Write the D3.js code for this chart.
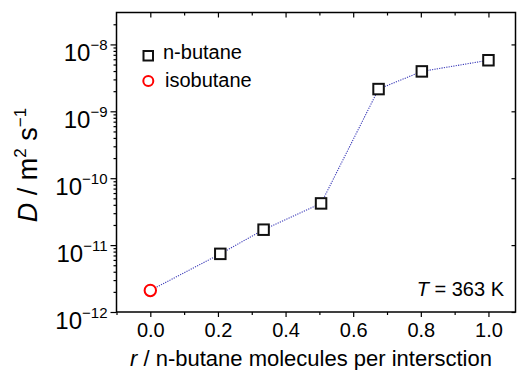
<!DOCTYPE html>
<html>
<head>
<meta charset="utf-8">
<script src="https://cdn.jsdelivr.net/npm/d3@7/dist/d3.min.js"></script>
<style>
  html, body { margin: 0; padding: 0; background: #fff; }
  svg { display: block; font-family: "Liberation Sans", Arial, sans-serif; }
</style>
</head>
<body>
<svg id="chart" width="518" height="370"></svg>
<script>
// Diffusivity of butane isomers vs. loading per intersection (T = 363 K)
const nButaneR = [0.207, 0.335, 0.505, 0.675, 0.803, 1.0];
const nButaneD = [7.4e-12, 1.7e-11, 4.2e-11, 2.15e-9, 3.95e-9, 5.8e-9];
const isobutaneR = [0.0];
const isobutaneD = [2.1e-12];

const xMajorTicks = [0.0, 0.2, 0.4, 0.6, 0.8, 1.0];
const xMinorTicks = [-0.1, 0.1, 0.3, 0.5, 0.7, 0.9];
const yDecadeExponents = [-12, -11, -10, -9, -8];

const svg = d3.select("#chart");
const plotL = 116.5, plotR = 515.5, plotT = 12.5, plotB = 312;

const x = d3.scaleLinear().domain([-0.1, 1.08]).range([plotL, plotR]);
const y = d3.scaleLog().domain([1e-12, 3e-8]).range([plotB, plotT]);

const decades = yDecadeExponents.map(e => Math.pow(10, e));
const yMinor = [];
yDecadeExponents.forEach(e => {
  for (let m = 2; m <= 9; m++) {
    const v = m * Math.pow(10, e);
    if (v <= y.domain()[1]) yMinor.push(v);
  }
});

function styleAxis(g) {
  g.select(".domain").remove();
  g.selectAll("line").attr("stroke", "#000").attr("stroke-width", 1.2);
}

// bottom axis: major + minor ticks outward
svg.append("g").attr("transform", `translate(0,${plotB})`)
  .call(d3.axisBottom(x).tickValues(xMajorTicks).tickSize(5).tickFormat(d3.format(".1f")))
  .call(styleAxis)
  .call(g => g.selectAll("text").attr("font-size", 20).attr("fill", "#000")
    .attr("font-family", "Liberation Sans, Arial, sans-serif")
    .attr("y", 25).attr("dy", null));
svg.append("g").attr("transform", `translate(0,${plotB})`)
  .call(d3.axisBottom(x).tickValues(xMinorTicks).tickSize(3).tickFormat(""))
  .call(styleAxis);

// top axis: inward ticks
svg.append("g").attr("transform", `translate(0,${plotT})`)
  .call(d3.axisTop(x).tickValues(xMajorTicks).tickSize(-5).tickFormat(""))
  .call(styleAxis);
svg.append("g").attr("transform", `translate(0,${plotT})`)
  .call(d3.axisTop(x).tickValues(xMinorTicks.filter(v => v > -0.1)).tickSize(-3).tickFormat(""))
  .call(styleAxis);

// left axis: decades with power labels, minor ticks outward
svg.append("g").attr("transform", `translate(${plotL},0)`)
  .call(d3.axisLeft(y).tickValues(decades).tickSize(6).tickFormat(""))
  .call(styleAxis);
svg.append("g").attr("transform", `translate(${plotL},0)`)
  .call(d3.axisLeft(y).tickValues(yMinor).tickSize(3).tickFormat(""))
  .call(styleAxis);

const yLabels = svg.append("g");
yDecadeExponents.forEach(e => {
  const t = yLabels.append("text")
    .attr("x", plotL - 9)
    .attr("y", y(Math.pow(10, e)) + 16.5)
    .attr("text-anchor", "end")
    .attr("font-size", 24)
    .attr("fill", "#000");
  t.append("tspan").text("10");
  t.append("tspan").attr("font-size", 15).attr("dy", -10.5).text("\u2212" + Math.abs(e));
});

// right axis: inward decade ticks
svg.append("g").attr("transform", `translate(${plotR},0)`)
  .call(d3.axisRight(y).tickValues(decades).tickSize(-4).tickFormat(""))
  .call(styleAxis);

// frame
svg.append("rect")
  .attr("x", plotL).attr("y", plotT)
  .attr("width", plotR - plotL).attr("height", plotB - plotT)
  .attr("fill", "none").attr("stroke", "#000").attr("stroke-width", 1.5);

// connecting dotted line through all points ordered by r
const allPts = isobutaneR.map((r, i) => [r, isobutaneD[i]])
  .concat(nButaneR.map((r, i) => [r, nButaneD[i]]))
  .sort((a, b) => a[0] - b[0]);
svg.append("path")
  .datum(allPts)
  .attr("fill", "none")
  .attr("stroke", "#3a3ab8")
  .attr("stroke-width", 1.1)
  .attr("stroke-dasharray", "1.2,1.2")
  .attr("d", d3.line().x(d => x(d[0])).y(d => y(d[1])));

// markers
const sq = 10.5;
svg.append("g").selectAll("rect")
  .data(nButaneR.map((r, i) => [r, nButaneD[i]]))
  .join("rect")
  .attr("x", d => x(d[0]) - sq / 2)
  .attr("y", d => y(d[1]) - sq / 2)
  .attr("width", sq).attr("height", sq)
  .attr("fill", "#fff").attr("stroke", "#111").attr("stroke-width", 2);

svg.append("g").selectAll("circle")
  .data(isobutaneR.map((r, i) => [r, isobutaneD[i]]))
  .join("circle")
  .attr("cx", d => x(d[0]))
  .attr("cy", d => y(d[1]))
  .attr("r", 5.7)
  .attr("fill", "#fff").attr("stroke", "#ff0000").attr("stroke-width", 2);

// legend
const legend = svg.append("g");
legend.append("rect").attr("x", 143.5).attr("y", 51).attr("width", 9.5).attr("height", 9.5)
  .attr("fill", "#fff").attr("stroke", "#111").attr("stroke-width", 2);
legend.append("text").attr("x", 163).attr("y", 58.5).attr("font-size", 20).text("n-butane");
legend.append("circle").attr("cx", 148.3).attr("cy", 81).attr("r", 5)
  .attr("fill", "#fff").attr("stroke", "#ff0000").attr("stroke-width", 2);
legend.append("text").attr("x", 165).attr("y", 87).attr("font-size", 20).text("isobutane");

// temperature annotation
const tAnn = svg.append("text").attr("x", 504).attr("y", 296)
  .attr("text-anchor", "end").attr("font-size", 20);
tAnn.append("tspan").attr("font-style", "italic").text("T");
tAnn.append("tspan").text(" = 363 K");

// axis titles
const xt = svg.append("text").attr("x", 130).attr("y", 366).attr("font-size", 22);
xt.append("tspan").attr("font-style", "italic").text("r");
xt.append("tspan").text("  / n-butane molecules per intersction");

const yt = svg.append("text")
  .attr("transform", "translate(37,165) rotate(-90)")
  .attr("text-anchor", "middle").attr("font-size", 27);
yt.append("tspan").attr("font-style", "italic").text("D");
yt.append("tspan").text(" / m");
yt.append("tspan").attr("font-size", 17).attr("dy", -11).text("2");
yt.append("tspan").attr("dy", 11).text(" s");
yt.append("tspan").attr("font-size", 17).attr("dy", -11).text("\u22121");
</script>
</body>
</html>
